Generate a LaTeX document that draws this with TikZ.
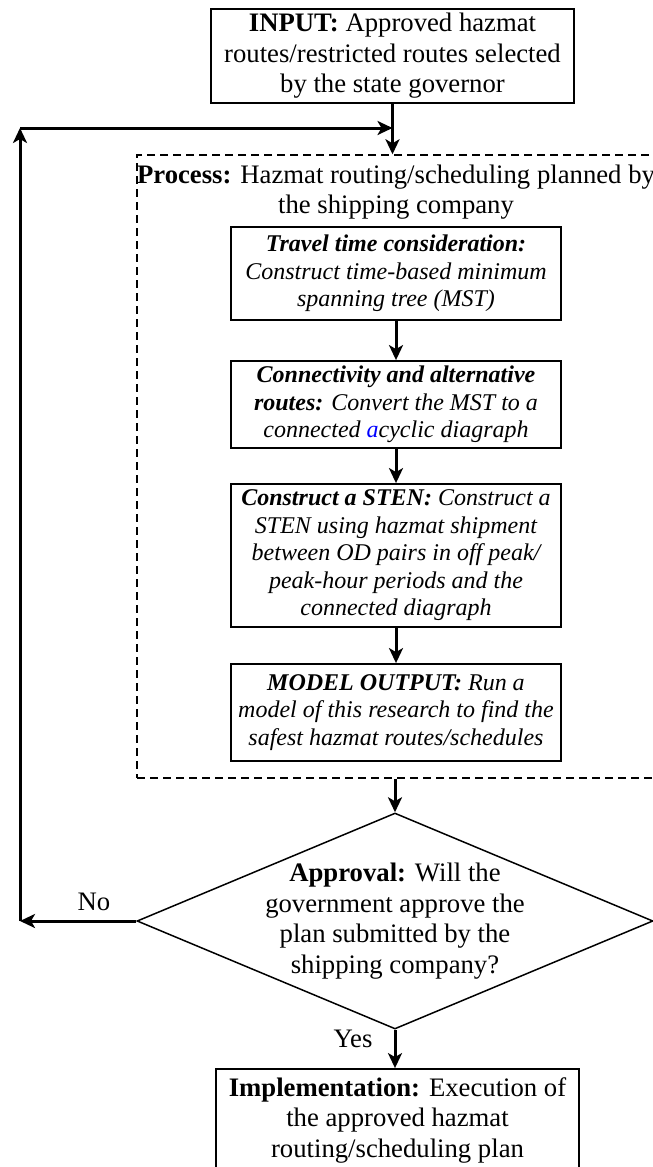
\documentclass[tikz,border=0pt]{standalone}
\usepackage{fontspec}
\setmainfont{Liberation Serif}
\usetikzlibrary{arrows.meta,shapes.geometric}
\begin{document}
\begin{tikzpicture}[x=1pt,y=-1pt,
 big/.style={font=\fontsize{26.7}{30.5}\selectfont},
 small/.style={font=\fontsize{24}{27.5}\selectfont\itshape},
 box/.style={draw, line width=1.8pt, align=center, inner sep=2pt},
 flow/.style={line width=3pt, -{Stealth[length=15pt,width=14pt,inset=4pt]}},
 dashbox/.style={draw, dash pattern=on 8pt off 5pt, line width=1.4pt, inner sep=0pt},
]
\useasboundingbox (0,0) rectangle (653,1167);
\clip (0,0) rectangle (653,1167);

\node[box,big,minimum width=363pt,minimum height=94pt] (input) at (392.5,56)
 {\textbf{INPUT:} Approved hazmat\\routes/restricted routes selected\\by the state governor};

\node[dashbox,minimum width=523pt,minimum height=623pt] (process) at (398.5,466.5) {};
\node[big,align=center,inner sep=0pt] (plabel) at (396,192)
 {\textbf{Process:} Hazmat routing/scheduling planned by\\the shipping company};

\node[box,small,minimum width=330pt,minimum height=93pt] (travel) at (396,273.5)
 {\textbf{Travel time consideration:}\\Construct time-based minimum\\spanning tree (MST)};
\node[box,small,minimum width=330pt,minimum height=87pt] (conn) at (396,404.5)
 {\textbf{Connectivity and alternative}\\\textbf{routes:} Convert the MST to a\\connected \textcolor{blue}{a}cyclic diagraph};
\node[box,small,minimum width=330pt,minimum height=143pt] (sten) at (396,555.5)
 {\textbf{Construct a STEN:} Construct a\\STEN using hazmat shipment\\between OD pairs in off peak/\\peak-hour periods and the\\connected diagraph};
\node[box,small,minimum width=330pt,minimum height=97pt] (model) at (396,712.5)
 {\textbf{MODEL OUTPUT:} Run a\\model of this research to find the\\safest hazmat routes/schedules};

\node[diamond,draw,line width=1.5pt,minimum width=516pt,minimum height=216pt,inner sep=0pt] (appr) at (395,921) {};
\node[big,align=center] (apprtext) at (appr.center)
 {\textbf{Approval:} Will the\\government approve the\\plan submitted by the\\shipping company?};

\node[box,big,minimum width=363pt,minimum height=102pt] (impl) at (397.5,1120)
 {\textbf{Implementation:} Execution of\\the approved hazmat\\routing/scheduling plan};

\node[big] (no) at (94,902) {No};
\node[big] (yes) at (353,1039) {Yes};

\coordinate (c1) at (20,921);
\coordinate (c2) at (20,128);
\coordinate (c3) at (input.south |- c2);

\draw[flow] (input.south) -- (input.south |- process.north);
\draw[flow] (travel.south) -- (conn.north);
\draw[flow] (conn.south) -- (sten.north);
\draw[flow] (sten.south) -- (model.north);
\draw[flow] (appr.north |- process.south) -- (appr.north);
\draw[flow] (appr.south) -- (appr.south |- impl.north);
\draw[flow] (appr.west) -- (c1);
\draw[flow] (c1) -- (c2);
\draw[flow] (c2) -- (c3);
\end{tikzpicture}
\end{document}
